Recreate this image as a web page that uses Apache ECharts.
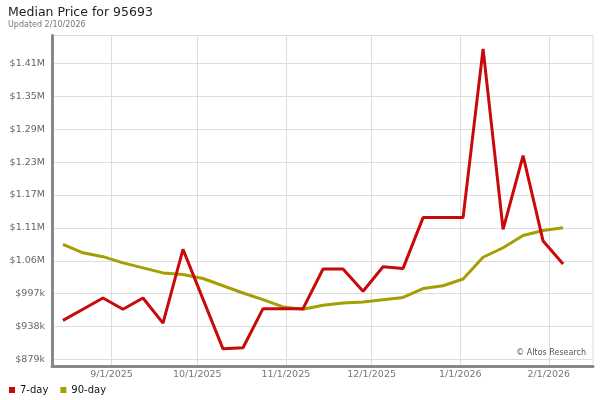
<!DOCTYPE html>
<html>
<head>
<meta charset="utf-8">
<script src="https://cdn.jsdelivr.net/npm/echarts@6/dist/echarts.min.js"></script>
<style>
html,body{margin:0;padding:0;background:#fff;}
#c{width:600px;height:400px;}
</style>
</head>
<body>
<div id="c"></div>
<script>
// ---- data ----
const dates = ['2025-08-15','2025-08-22','2025-08-29','2025-09-05','2025-09-12','2025-09-19','2025-09-26',
  '2025-10-03','2025-10-10','2025-10-17','2025-10-24','2025-10-31','2025-11-07','2025-11-14','2025-11-21',
  '2025-11-28','2025-12-05','2025-12-12','2025-12-19','2025-12-26','2026-01-02','2026-01-09','2026-01-16',
  '2026-01-23','2026-01-30','2026-02-06'];
const day7 = [949000, 969000, 989000, 969000, 989000, 944000, 1076000, 987000, 898000, 900000, 970000, 970000, 970000,
  1041000, 1041000, 1001000, 1045000, 1042000, 1133000, 1133000, 1133000, 1435000, 1112000, 1244000, 1091000, 1050000];
const day90 = [1085000, 1070000, 1063000, 1052000, 1043000, 1034000, 1031000, 1024000, 1011000, 998000, 986000, 973000, 969000,
  976000, 980000, 982000, 986000, 990000, 1006000, 1011000, 1023000, 1062000, 1079000, 1101000, 1110000, 1115000];
const xTickDates = ['2025-09-01','2025-10-01','2025-11-01','2025-12-01','2026-01-01','2026-02-01'];
const xTickLabels = ['9/1/2025','10/1/2025','11/1/2025','12/1/2025','1/1/2026','2/1/2026'];
const yTickValues = [879000, 937900, 996800, 1055700, 1114600, 1173500, 1232400, 1291300, 1350200, 1409100];
const yTickLabels = ['$879k','$938k','$997k','$1.06M','$1.11M','$1.17M','$1.23M','$1.29M','$1.35M','$1.41M'];
const seriesNames = ['7-day','90-day'];
const titleText = 'Median Price for 95693';
const subText = 'Updated 2/10/2026';

function toTs(s){ const p = s.split('-').map(Number); return Date.UTC(p[0], p[1]-1, p[2]); }
function nearestLabel(vals, labels, v){
  let bi=0, bd=Infinity;
  vals.forEach(function(t,i){ const d=Math.abs(t-v); if(d<bd){bd=d;bi=i;} });
  return labels[bi];
}
const FONT = 'DejaVu Sans';
const xTicks = xTickDates.map(toTs);

const chart = echarts.init(document.getElementById('c'), null, {renderer:'canvas'});
chart.setOption({
  animation:false,
  backgroundColor:'#fff',
  title:{
    text:titleText, subtext:subText, left:3, top:1, itemGap:2,
    textStyle:{fontFamily:FONT, fontSize:12.5, fontWeight:'normal', color:'#222'},
    subtextStyle:{fontFamily:FONT, fontSize:8, color:'#777'}
  },
  legend:{
    left:4, top:380, icon:'rect', itemWidth:6, itemHeight:6, itemGap:12,
    textStyle:{fontFamily:FONT, fontSize:10, color:'#111'},
    data:seriesNames
  },
  grid:{left:52, right:7, top:35.5, bottom:34, show:true, borderColor:'#ddd', borderWidth:1},
  xAxis:{
    type:'value',
    min:Date.UTC(2025,7,11,4),
    max:Date.UTC(2026,1,16,11),
    axisLine:{show:true, lineStyle:{color:'#888', width:3}},
    axisTick:{show:false, customValues:xTicks},
    splitLine:{show:true, lineStyle:{color:'#ddd', width:1}},
    axisLabel:{
      customValues:xTicks, margin:4,
      fontFamily:FONT, fontSize:9.5, color:'#777',
      formatter:function(v){ return nearestLabel(xTicks, xTickLabels, v); }
    }
  },
  yAxis:{
    type:'value', min:867300, max:1459000,
    axisLine:{show:true, lineStyle:{color:'#888', width:3}},
    axisTick:{show:false, customValues:yTickValues},
    splitLine:{show:true, lineStyle:{color:'#ddd', width:1}},
    axisLabel:{
      customValues:yTickValues, margin:7,
      fontFamily:FONT, fontSize:9.5, color:'#666',
      formatter:function(v){ return nearestLabel(yTickValues, yTickLabels, v); }
    }
  },
  graphic:[{
    type:'text', right:14, top:349,
    style:{text:'\u00a9 Altos Research', fontFamily:FONT, fontSize:8, fill:'#555'}
  }],
  series:[
    {name:seriesNames[0], type:'line', data:dates.map(function(d,i){return [toTs(d), day7[i]];}),
     symbol:'none', lineStyle:{width:3, color:'#c80a0a'}, itemStyle:{color:'#c80a0a'}, z:3},
    {name:seriesNames[1], type:'line', data:dates.map(function(d,i){return [toTs(d), day90[i]];}),
     symbol:'none', lineStyle:{width:3, color:'#a59e05'}, itemStyle:{color:'#a59e05'}, z:2}
  ]
});
</script>
</body>
</html>
